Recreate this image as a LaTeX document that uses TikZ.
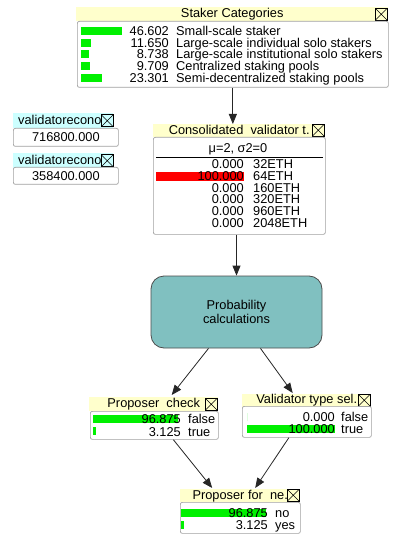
\documentclass[tikz,border=0pt]{standalone}
\usepackage{fontspec}
\setmainfont{Liberation Sans}
\usetikzlibrary{arrows.meta, calc}
\definecolor{titlebg}{RGB}{255,255,204}
\definecolor{constbg}{RGB}{204,255,255}
\definecolor{probbar}{RGB}{0,240,0}
\definecolor{evidbar}{RGB}{255,0,0}
\definecolor{decision}{RGB}{128,192,192}
\definecolor{panelframe}{RGB}{160,160,160}
\newcommand{\monfont}{\fontsize{12.8}{14}\selectfont}

\begin{document}
\begin{tikzpicture}[
    x=1pt, y=-1pt,
    titlebar/.style={
        rectangle, fill=#1, anchor=north west, inner sep=0,
        minimum height=14, font=\monfont, text height=9.5, text depth=2.5
    },
    panel/.style={
        rectangle, draw=panelframe, fill=white, rounded corners=2pt,
        anchor=north west, inner sep=0, line width=0.7pt, font=\monfont
    },
    closebox/.style={
        rectangle, draw=black, anchor=north east, minimum size=12, inner sep=0,
        line width=0.5pt,
        path picture={\draw[line width=0.5pt]
            (path picture bounding box.north west) -- (path picture bounding box.south east)
            (path picture bounding box.north east) -- (path picture bounding box.south west);}
    },
    numtxt/.style={anchor=base east, inner sep=0, font=\monfont},
    labtxt/.style={anchor=base west, inner sep=0, font=\monfont},
    arr/.style={-{Triangle[length=10pt, width=8pt]}, line width=0.8pt, draw=black!85},
    >=Stealth
]
\fill[white] (0,0) rectangle (402,545);
\useasboundingbox (0,0) rectangle (402,545);

% Staker Categories monitor
\node[titlebar=titlebg, minimum width=312] (stkT) at (76,7) {Staker Categories};
\node[closebox] (stkX) at ([xshift=-1pt, yshift=-1pt]stkT.north east) {};
\node[panel, minimum width=311, minimum height=66] (stkB) at (77,21) {};
\foreach \val/\lab [count=\i] in {46.602/Small-scale staker,11.650/Large-scale individual solo stakers,8.738/Large-scale institutional solo stakers,9.709/Centralized staking pools,23.301/Semi-decentralized staking pools} {
    \fill[probbar] (81,{19.3+11.7*\i-4}) rectangle ++({0.88*\val},8);
    \node[numtxt] (stkN\i) at (169,{19.3+11.7*\i+4.6}) {\val};
    \node[labtxt] (stkL\i) at (176,{19.3+11.7*\i+4.6}) {\lab};
}

% Constant nodes (left)
\node[titlebar=constbg, minimum width=100, minimum height=15] (ve1T) at (13,113) {};
\node[labtxt] (ve1L) at (18,124.5) {validatorecono};
\node[closebox] (ve1X) at ([yshift=-1.5pt]ve1T.north east) {};
\node[panel, minimum width=105, minimum height=18] (ve1B) at (13,128) {716800.000};

\node[titlebar=constbg, minimum width=100, minimum height=15] (ve2T) at (13,153) {};
\node[labtxt] (ve2L) at (18,164.5) {validatorecono};
\node[closebox] (ve2X) at ([yshift=-1.5pt]ve2T.north east) {};
\node[panel, minimum width=105, minimum height=17] (ve2B) at (13,167) {358400.000};

% Consolidated validator type monitor
\node[titlebar=titlebg, minimum width=172, minimum height=13] (conT) at (153,124) {Consolidated\ \ validator t.\hspace{14pt}};
\node[closebox] (conX) at ([xshift=-1pt]conT.north east) {};
\node[panel, minimum width=172, minimum height=97] (conB) at (153,137) {};
\node[font=\monfont, inner sep=0, anchor=base] (conH) at (238,152.5) {μ=2, σ2=0};
\draw[line width=0.8pt] ([xshift=3pt]conB.west |- 0,157) coordinate (conR1) -- ([xshift=-3pt]conB.east |- 0,157) coordinate (conR2);
\fill[evidbar] (156,171.8) rectangle ++(88,9);
\foreach \val/\lab [count=\i] in {0.000/32ETH,100.000/64ETH,0.000/160ETH,0.000/320ETH,0.000/960ETH,0.000/2048ETH} {
    \node[numtxt] (conN\i) at (244,{152.2+11.8*\i+4.6}) {\val};
    \node[labtxt] (conL\i) at (253,{152.2+11.8*\i+4.6}) {\lab};
}

% Decision node
\node[rectangle, rounded corners=13pt, draw=black!70, fill=decision,
      minimum width=171, minimum height=72, line width=0.8pt,
      align=center, font=\monfont]
      (prob) at (236.5,312) {Probability\\calculations};

% Proposer check monitor
\node[titlebar=titlebg, minimum width=129] (pcT) at (89,397) {Proposer\ \ check};
\node[closebox] (pcX) at ([xshift=-1pt, yshift=-1pt]pcT.north east) {};
\node[panel, minimum width=128, minimum height=28] (pcB) at (90,411) {};
\foreach \val/\lab [count=\i] in {96.875/false,3.125/true} {
    \fill[probbar] (93,{407+12.2*\i-4}) rectangle ++({0.88*\val},8);
    \node[numtxt] (pcN\i) at (181,{407+12.2*\i+4.6}) {\val};
    \node[labtxt] (pcL\i) at (188,{407+12.2*\i+4.6}) {\lab};
}

% Validator type selection monitor
\node[titlebar=titlebg, minimum width=129, minimum height=12.5] (vtT) at (242,394) {Validator type sel.\hspace{12pt}};
\node[closebox] (vtX) at ([xshift=-1pt]vtT.north east) {};
\node[panel, minimum width=129, minimum height=31] (vtB) at (242,406) {};
\foreach \val/\lab [count=\i] in {0.000/false,100.000/true} {
    \fill[probbar] (247,{405.3+11.7*\i-4}) rectangle ++({0.88*\val},8);
    \node[numtxt] (vtN\i) at (335,{405.3+11.7*\i+4.6}) {\val};
    \node[labtxt] (vtL\i) at (341,{405.3+11.7*\i+4.6}) {\lab};
}

% Proposer for next epoch monitor
\node[titlebar=titlebg, minimum width=120, minimum height=13] (pfT) at (180,489) {Proposer for\ \ ne.\hspace{12pt}};
\node[closebox] (pfX) at ([xshift=-1pt]pfT.north east) {};
\node[panel, minimum width=120, minimum height=31] (pfB) at (180,502) {};
\foreach \val/\lab [count=\i] in {96.875/no,3.125/yes} {
    \fill[probbar] (181,{501.6+11.7*\i-4}) rectangle ++({0.88*\val},8);
    \node[numtxt] (pfN\i) at (268,{501.6+11.7*\i+4.6}) {\val};
    \node[labtxt] (pfL\i) at (275,{501.6+11.7*\i+4.6}) {\lab};
}

% Links
\draw[arr] (stkB.south) -- (stkB.south |- conT.north);
\draw[arr] (prob.north |- conB.south) -- (prob.north);
\draw[arr] ([xshift=-28pt]prob.south) -- ([xshift=18pt, yshift=2pt]pcT.north);
\draw[arr] ([xshift=24pt]prob.south) -- ([xshift=-14pt, yshift=1pt]vtT.north);
\draw[arr] ([xshift=19pt]pcB.south) -- ([xshift=-28pt, yshift=1pt]pfT.north);
\draw[arr] ([xshift=-18pt]vtB.south) -- ([xshift=15pt, yshift=1pt]pfT.north);

\end{tikzpicture}
\end{document}
